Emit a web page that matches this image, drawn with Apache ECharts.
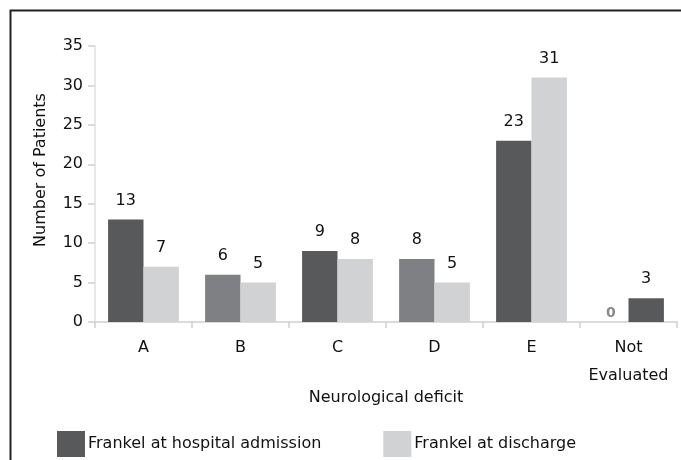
<!DOCTYPE html>
<html>
<head>
<meta charset="utf-8">
<script src="https://cdn.jsdelivr.net/npm/echarts@6/dist/echarts.min.js"></script>
<style>
html,body{margin:0;padding:0;background:#fff;}
#main{width:681px;height:460px;}
</style>
</head>
<body>
<div id="main"></div>
<script>
// ---- data ----
const categories = ['A', 'B', 'C', 'D', 'E', 'Not\nEvaluated'];
const admission = [13, 6, 9, 8, 23, 3];
const discharge = [7, 5, 8, 5, 31, 0];
const yTicks = [0, 5, 10, 15, 20, 25, 30, 35];
// in the last category the reference draws discharge first, admission second
const swapped = [false, false, false, false, false, true];

// ---- styles ----
const DARK = '#58595b', MID = '#7f8083', LIGHT = '#d1d2d4';
const admissionShade = [DARK, MID, DARK, MID, DARK, DARK];
const FONT = '"DejaVu Sans", "Liberation Sans", Arial, sans-serif';

function admissionItem(i) {
  return { value: admission[i], itemStyle: { color: admissionShade[i] } };
}
function dischargeItem(i) {
  const it = { value: discharge[i], itemStyle: { color: LIGHT } };
  if (discharge[i] === 0) {
    it.label = { color: '#8a8a8a', fontWeight: 'bold', fontSize: 14, distance: 2 };
  }
  return it;
}
const slot1 = categories.map((c, i) => swapped[i] ? dischargeItem(i) : admissionItem(i));
const slot2 = categories.map((c, i) => swapped[i] ? admissionItem(i) : dischargeItem(i));

const chart = echarts.init(document.getElementById('main'), null, { renderer: 'canvas' });
const labelStyle = { show: true, position: 'top', distance: 11, color: '#111', fontSize: 16, fontFamily: FONT };

chart.setOption({
  animation: false,
  textStyle: { fontFamily: FONT },
  graphic: [{
    type: 'rect', left: 8, top: 8, z: 100, silent: true,
    shape: { width: 700, height: 470 },
    style: { fill: 'none', stroke: '#222', lineWidth: 2 }
  }],
  grid: { left: 95, right: 4, top: 46, bottom: 138 },
  legend: {
    left: 57, top: 431, padding: 0, itemWidth: 28, itemHeight: 26, itemGap: 62,
    icon: 'rect',
    textStyle: { fontSize: 16, color: '#111', fontFamily: FONT, padding: [0, 0, 4, -2] },
    data: ['Frankel at hospital admission', 'Frankel at discharge']
  },
  xAxis: {
    type: 'category', data: categories,
    name: 'Neurological deficit', nameLocation: 'middle', nameGap: 68, nameMoveOverlap: false,
    nameTextStyle: { fontSize: 16, color: '#111', fontFamily: FONT },
    axisLine: { lineStyle: { color: '#cfcfcf', width: 1.5 } },
    axisTick: { show: true, interval: 0, length: 6, lineStyle: { color: '#cfcfcf', width: 1.5 } },
    axisLabel: { interval: 0, margin: 12, fontSize: 16, color: '#111', lineHeight: 28, fontFamily: FONT }
  },
  yAxis: {
    type: 'value', min: yTicks[0], max: yTicks[yTicks.length - 1], interval: 5,
    name: 'Number of Patients', nameLocation: 'middle', nameGap: 46,
    nameTextStyle: { fontSize: 16, color: '#111', fontFamily: FONT, padding: [0, 0, 0, 28] },
    axisLine: { show: true, lineStyle: { color: '#e0e0e0', width: 1.5 } },
    axisTick: { show: true, length: 7, lineStyle: { color: '#cfcfcf', width: 1.5 } },
    splitLine: { show: false },
    axisLabel: { margin: 12, fontSize: 16, color: '#111', fontFamily: FONT }
  },
  series: [
    {
      name: 'Frankel at hospital admission', type: 'bar', color: DARK,
      data: slot1, barGap: '0%', barCategoryGap: '27%', label: labelStyle
    },
    {
      name: 'Frankel at discharge', type: 'bar', color: LIGHT,
      data: slot2, barGap: '0%', barCategoryGap: '27%', label: labelStyle
    }
  ]
});
</script>
</body>
</html>
